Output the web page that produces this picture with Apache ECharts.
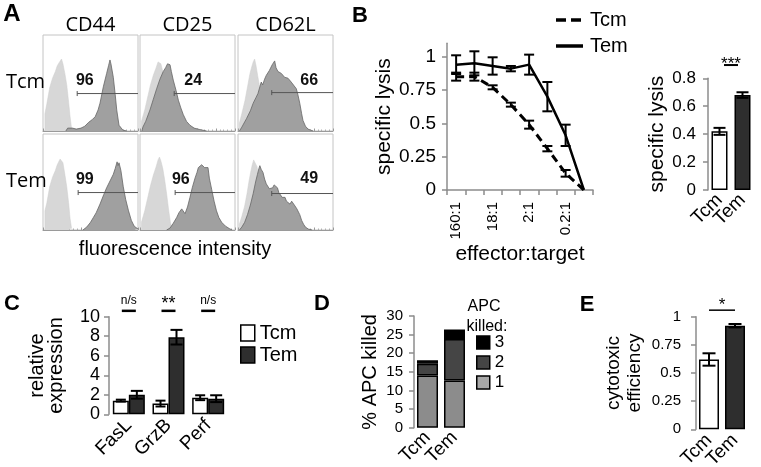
<!DOCTYPE html>
<html><head><meta charset="utf-8">
<script src="https://cdn.jsdelivr.net/npm/echarts@6/dist/echarts.min.js"></script>
<style>html,body{margin:0;padding:0;background:#fff}#c{width:761px;height:467px}</style>
</head><body><div id="c"></div><script>
const FONT = '"Liberation Sans", Arial, sans-serif';
const FONT_A = '"Open Sans", "Noto Sans", sans-serif';
const AX = '#8c8c8c';

// ---------- Panel A : histograms ----------
const histCols = ['CD44', 'CD25', 'CD62L'];
const histRows = ['Tcm', 'Tem'];
// order: Tcm CD44, Tcm CD25, Tcm CD62L, Tem CD44, Tem CD25, Tem CD62L  (x: 0-100, y: % of box height)
const histLight = [
  [[2,0],[2,18],[4,28],[7,45],[10,55],[13,62],[15,68],[16,66],[17.5,72],[18.5,70],[19.5,75],[21,70],[23,60],[25,48],[27,30],[28.5,15],[30,3],[31,0]],
  [[1.5,0],[1.5,10],[5,22],[8,35],[11,48],[14,58],[17,66],[19,72],[20.5,74],[22,70],[25,58],[28,40],[31,20],[34,5],[36,0]],
  [[1.4,0],[1.4,8],[4,18],[7.4,32],[10,46],[12.6,60],[14.5,67],[16,72],[17.5,75],[19,68],[21,56],[23,45],[25,34],[27,22],[29,10],[31,0]],
  [[2,0],[2,20],[4,28],[7,45],[10,55],[13,62],[15,68],[16,66],[18,74],[19.5,76],[21,70],[23,58],[25,45],[27,28],[28.5,12],[30,2],[31,0]],
  [[1.5,0],[1.5,8],[5,20],[8,33],[11,46],[14,57],[17,66],[19,73],[20.5,76],[22,72],[24,64],[26,52],[28,38],[30,22],[32,8],[34,0]],
  [[1.4,0],[1.4,6],[4,14],[7,25],[9.5,38],[11.6,51],[13.5,61],[15,68],[16.5,73],[18.4,75],[20,66],[21.9,54],[24,40],[26,26],[28,12],[30,0]]
];
const histDark = [
  [[24,0],[26,3],[28,4],[31,3],[35,2],[40,3],[44,5],[48,9],[52,12],[55,15],[58,22],[60,29],[63.5,46],[67,60],[69,68],[70.5,74],[71.5,70],[72.5,72],[74,56],[76,38],[77.6,22],[80,6],[84,1],[88,0]],
  [[2,0],[3,4],[6,10],[10.5,22],[14,33],[17.5,44],[21,54],[24.5,62],[27,66],[29,70],[30.5,68],[31.6,69],[33,62],[35,53],[38,42],[40.4,32],[43,24],[45.6,17],[49,10],[52.6,6],[57,3],[63,1.5],[70,0]],
  [[1.5,0],[4,4],[9,13],[13,21],[16,29],[19,35],[21,39],[23,46],[24.5,51],[26,48],[28,54],[29.8,58],[31.5,57],[33,63],[34.5,62],[36,69],[37.5,68],[38.6,73],[40,66],[42,62],[44,63],[45.6,60],[47.5,58],[49,56],[51,57],[52.6,55],[54.5,53],[56,51],[58,49],[61.4,44],[63,38],[65,29],[67,18],[68.4,11],[71,5],[73.7,2],[79,0]],
  [[42,0],[46,3],[50,8],[53,13],[56,18],[60,27],[64,37],[67,44],[70,50],[74,58],[76,64],[78,71],[79,67],[80,70],[82,62],[84.5,45],[87,32],[90,20],[93,10],[96,4],[100,1]],
  [[28,0],[31.6,2],[35,7],[38.6,13],[41,18],[43.9,22],[45.5,20],[47.4,17],[50,24],[52.6,34],[55,44],[57.9,54],[60,60],[61.4,65],[63,64],[64.9,68],[66.5,66],[68,65],[70,67],[71.6,65],[73,54],[75.5,42],[78,30],[80.5,20],[83,13],[86,8],[90,4],[94,1.5],[97,0]],
  [[1.5,0],[4,3],[7,8],[10,16],[13,26],[16,38],[18.5,50],[20.5,58],[22,64],[23,67],[24.5,63],[26.3,60],[28,53],[29.8,48],[31.5,46],[33,43],[35,45],[36.5,44],[38,47],[40,46],[41.5,44],[43,39],[45,37],[46.5,34],[48,35],[49.5,34],[51,30],[53,28],[54.7,27],[56.5,30],[58,30],[60,25],[62,22],[63,20],[65,16],[67,10],[69,6],[71,3],[74,1],[78,0]]
];
const gateStart = [36, 36, 35.5, 37, 37, 35.5];
const gateLevel = [39, 39, 40, 39, 39, 38];
const gateLabel = ['96', '24', '66', '99', '96', '49'];
const gateLabelX = [44, 56, 75, 44, 43, 75];
const gateLabelY = [52, 52, 52, 52, 52, 53.5];

// ---------- Panel B ----------
const ratioCats = ['160:1', '53:1', '18:1', '6:1', '2:1', '0.7:1', '0.2:1', '0.07:1'];
const lysisTcm = [0.85, 0.85, 0.77, 0.64, 0.49, 0.31, 0.125, 0];
const lysisTcmErr = [0.03, 0.03, 0.015, 0.015, 0.03, 0.02, 0.025, 0];
const lysisTem = [0.94, 0.95, 0.93, 0.91, 0.94, 0.70, 0.41, 0];
const lysisTemErr = [0.07, 0.09, 0.065, 0.02, 0.075, 0.11, 0.08, 0];
const groups = ['Tcm', 'Tem'];
const lysisBar = [0.42, 0.68];
const lysisBarErr = [0.025, 0.02];
const lysisSig = ['***'];

// ---------- Panel C ----------
const genes = ['FasL', 'GrzB', 'Perf'];
const exprTcm = [1.4, 1.1, 1.7];
const exprTcmErr = [0.1, 0.3, 0.25];
const exprTem = [2.0, 7.9, 1.6];
const exprTemErr = [0.4, 0.75, 0.35];
const geneSig = ['n/s', '**', 'n/s'];

// ---------- Panel D ----------
const apcKilled1 = [14, 12.7];
const apcKilled2 = [3.2, 11.1];
const apcKilled3 = [0.9, 2.6];

// ---------- Panel E ----------
const cytoEff = [0.62, 0.92];
const cytoErr = [0.055, 0.015];
const cytoSig = ['*'];

// ================= layout & build =================
const grids = [], xAxes = [], yAxes = [], series = [];
function addGrid(box, xa, ya) {
  const gi = grids.length;
  grids.push(Object.assign({outerBoundsMode: 'none'}, box));
  xa.gridIndex = gi; ya.gridIndex = gi;
  xAxes.push(xa); yAxes.push(ya);
  return gi;
}
const colLeft = [43, 140, 238], colW = 95, rowTop = [35, 134], rowH = 96;

for (let i = 0; i < 6; i++) {
  const r = Math.floor(i / 3), c = i % 3;
  const gi = addGrid(
    {left: colLeft[c], top: rowTop[r], width: colW, height: rowH, show: true, borderColor: '#c4c4c4', borderWidth: 1},
    {type: 'value', min: 0, max: 100, interval: 20,
      axisLine: {show: true, lineStyle: {color: '#9a9a9a', width: 1}},
      axisTick: {show: true, inside: true, length: 2.5, lineStyle: {color: '#9a9a9a'}},
      minorTick: {show: true, splitNumber: 5, length: 1.5, lineStyle: {color: '#b0b0b0'}},
      axisLabel: {show: false}, splitLine: {show: false}},
    {type: 'value', min: 0, max: 100, show: false}
  );
  series.push({type: 'line', xAxisIndex: gi, yAxisIndex: gi, data: histLight[i], symbol: 'none',
    lineStyle: {color: '#cfcfcf', width: 0.5}, areaStyle: {color: '#d7d7d7', opacity: 1}, z: 1});
  series.push({type: 'line', xAxisIndex: gi, yAxisIndex: gi, data: histDark[i], symbol: 'none',
    lineStyle: {color: '#666', width: 0.8}, areaStyle: {color: '#a0a0a0', opacity: 1}, z: 2});
  const label = gateLabel[i];
  series.push({type: 'custom', xAxisIndex: gi, yAxisIndex: gi, z: 3,
    data: [[gateStart[i], gateLevel[i], gateLabelX[i], gateLabelY[i]]],
    renderItem: (params, api) => {
      const p0 = api.coord([api.value(0), api.value(1)]);
      const p1 = api.coord([100, api.value(1)]);
      const pl = api.coord([api.value(2), api.value(3)]);
      const st = {stroke: '#555', lineWidth: 1};
      return {type: 'group', children: [
        {type: 'line', shape: {x1: p0[0], y1: p0[1], x2: p1[0], y2: p1[1]}, style: st},
        {type: 'line', shape: {x1: p0[0], y1: p0[1] - 2.5, x2: p0[0], y2: p0[1] + 2.5}, style: st},
        {type: 'text', x: pl[0], y: pl[1], style: {text: label, font: 'bold 16px ' + FONT, fill: '#111', align: 'center', verticalAlign: 'middle'}}
      ]};
    }});
}

function valAxis(o) {
  const ax = {type: 'value', min: o.min, max: o.max,
    axisLine: {show: true, lineStyle: {color: AX, width: 1.5}},
    axisTick: {show: true, length: 5, lineStyle: {color: AX, width: 1.5}},
    axisLabel: {fontSize: o.fs, color: '#000', margin: o.margin, fontFamily: FONT},
    splitLine: {show: false},
    name: o.name, nameLocation: 'middle', nameGap: o.gap,
    nameTextStyle: {fontSize: o.nfs, color: '#000', fontFamily: FONT, lineHeight: o.lh || o.nfs}};
  if (o.interval) ax.interval = o.interval;
  if (o.custom) { ax.axisLabel.customValues = o.custom; ax.axisTick.customValues = o.custom; }
  return ax;
}
function catAxis(data, fs, margin) {
  return {type: 'category', data, axisLine: {show: false}, axisTick: {show: false},
    axisLabel: {fontSize: fs, color: '#000', rotate: 45, margin, interval: 0, fontFamily: FONT}};
}
function errSeries(gi, data, offset, cap, lw) {
  return {type: 'custom', xAxisIndex: gi, yAxisIndex: gi, data, z: 6, encode: {x: 0, y: 1},
    renderItem: (params, api) => {
      const e = api.value(2);
      if (!e) return;
      const t = api.coord([api.value(0), api.value(1) + e]);
      const b = api.coord([api.value(0), api.value(1) - e]);
      const x = t[0] + offset;
      const st = {stroke: '#000', lineWidth: lw};
      return {type: 'group', children: [
        {type: 'line', shape: {x1: x, y1: t[1], x2: x, y2: b[1]}, style: st},
        {type: 'line', shape: {x1: x - cap, y1: t[1], x2: x + cap, y2: t[1]}, style: st},
        {type: 'line', shape: {x1: x - cap, y1: b[1], x2: x + cap, y2: b[1]}, style: st}
      ]};
    }};
}
function sigSeries(gi, data, texts, fonts, dys, hw, lw) {
  return {type: 'custom', xAxisIndex: gi, yAxisIndex: gi, data, z: 6, encode: {x: 0, y: 2},
    renderItem: (params, api) => {
      const a = api.coord([api.value(0), api.value(2)]);
      const b = api.coord([api.value(1), api.value(2)]);
      const i = params.dataIndex;
      return {type: 'group', children: [
        {type: 'line', shape: {x1: a[0] - hw, y1: a[1], x2: b[0] + hw, y2: b[1]}, style: {stroke: '#000', lineWidth: lw}},
        {type: 'text', x: (a[0] + b[0]) / 2, y: a[1] + dys[i], style: {text: texts[i], font: fonts[i], fill: '#000', align: 'center', verticalAlign: 'middle'}}
      ]};
    }};
}

// Panel B line chart
const gB = addGrid({left: 447, top: 43.3, width: 146, height: 146.7},
  {type: 'category', data: ratioCats, boundaryGap: true,
    axisLine: {show: true, lineStyle: {color: AX, width: 1.5}},
    axisTick: {show: true, length: 5, interval: 0, lineStyle: {color: AX, width: 1.5}},
    axisLabel: {interval: 1, rotate: 90, fontSize: 15, margin: 12, color: '#000', fontFamily: FONT},
    name: 'effector:target', nameLocation: 'middle', nameGap: 49,
    nameTextStyle: {fontSize: 21, color: '#000', fontFamily: FONT}},
  valAxis({min: 0, max: 1.1, custom: [0, 0.25, 0.5, 0.75, 1], fs: 19, margin: 11, name: 'specific lysis', gap: 50, nfs: 21}));
series.push({type: 'line', name: 'Tcm', xAxisIndex: gB, yAxisIndex: gB, data: lysisTcm, symbol: 'none',
  lineStyle: {color: '#000', width: 3, type: [8, 5]}, itemStyle: {color: '#000'}, z: 3});
series.push({type: 'line', name: 'Tem', xAxisIndex: gB, yAxisIndex: gB, data: lysisTem, symbol: 'none',
  lineStyle: {color: '#000', width: 2.5}, itemStyle: {color: '#000'}, z: 3});
series.push(errSeries(gB, lysisTcm.map((v, i) => [i, v, lysisTcmErr[i]]), 0, 5, 2));
series.push(errSeries(gB, lysisTem.map((v, i) => [i, v, lysisTemErr[i]]), 0, 5, 2));

// Panel B inset bars
const gBi = addGrid({left: 708, top: 78.3, width: 46, height: 111.7},
  catAxis(groups, 19, 7),
  valAxis({min: 0, max: 0.8, interval: 0.2, fs: 17, margin: 12, name: 'specific lysis', gap: 40, nfs: 21}));
series.push({type: 'bar', xAxisIndex: gBi, yAxisIndex: gBi, barWidth: 16,
  data: lysisBar.map((v, i) => ({value: v, itemStyle: {color: i ? '#2e2e2e' : '#fff', borderColor: '#000', borderWidth: 1.5}}))});
series.push(errSeries(gBi, lysisBar.map((v, i) => [i, v, lysisBarErr[i]]), 0, 6, 2));
series.push(sigSeries(gBi, [[0, 1, 0.895]], lysisSig, ['17px ' + FONT], [-1], -4.5, 2));

// Panel C
const gC = addGrid({left: 109, top: 316.7, width: 119, height: 97.6},
  catAxis(genes, 19, 8),
  valAxis({min: 0, max: 10, interval: 2, fs: 18, margin: 9, name: 'relative\nexpression', gap: 43, nfs: 20, lh: 19}));
series.push({type: 'bar', name: 'Tcm ', xAxisIndex: gC, yAxisIndex: gC, data: exprTcm, barWidth: 16, barGap: '0%',
  itemStyle: {color: '#fff', borderColor: '#000', borderWidth: 1.5}});
series.push({type: 'bar', name: 'Tem ', xAxisIndex: gC, yAxisIndex: gC, data: exprTem, barWidth: 16, barGap: '0%',
  itemStyle: {color: '#2e2e2e', borderColor: '#000', borderWidth: 1.5}});
series.push(errSeries(gC, exprTcm.map((v, i) => [i, v, exprTcmErr[i]]), -8, 5, 2));
series.push(errSeries(gC, exprTem.map((v, i) => [i, v, exprTemErr[i]]), 8, 6, 2));
series.push(sigSeries(gC, genes.map((g, i) => [i, i, 10.6]), geneSig,
  geneSig.map(s => s === '**' ? '18px ' + FONT : '12px ' + FONT),
  geneSig.map(s => s === '**' ? -6.5 : -10.5), 7, 2.5));

// Panel D
const gD = addGrid({left: 414, top: 316, width: 54, height: 111.7},
  catAxis(groups, 19, 7),
  valAxis({min: 0, max: 30, interval: 5, fs: 15, margin: 11, name: '% APC killed', gap: 34, nfs: 20}));
[[apcKilled1, '1', '#8c8c8c'], [apcKilled2, '2', '#454545'], [apcKilled3, '3', '#000']].forEach(([d, n, col]) => {
  series.push({type: 'bar', name: n, stack: 'apc', xAxisIndex: gD, yAxisIndex: gD, data: d, barWidth: 21,
    itemStyle: {color: col, borderColor: '#000', borderWidth: 1.5}});
});

// Panel E
const gE = addGrid({left: 696, top: 316.7, width: 52, height: 112.6},
  catAxis(groups, 19, 8),
  valAxis({min: 0, max: 1, interval: 0.25, fs: 15, margin: 15, name: 'cytotoxic\nefficiency', gap: 51, nfs: 19, lh: 21}));
series.push({type: 'bar', xAxisIndex: gE, yAxisIndex: gE, barWidth: 20,
  data: cytoEff.map((v, i) => ({value: v, itemStyle: {color: i ? '#2e2e2e' : '#fff', borderColor: '#000', borderWidth: 1.5}}))});
series.push(errSeries(gE, cytoEff.map((v, i) => [i, v, cytoErr[i]]), 0, 6.5, 2));
series.push(sigSeries(gE, [[0, 1, 1.058]], cytoSig, ['17px ' + FONT], [-4.5], 0, 1.5));

// ---------- text graphics & B legend ----------
const graphics = [];
function txt(text, x, y, font, align) {
  graphics.push({type: 'text', x, y, silent: true,
    style: {text, font, fill: '#000', align: align || 'center', verticalAlign: 'middle'}});
}
txt('A', 12, 14, 'bold 24px ' + FONT);
txt('B', 360, 16, 'bold 22px ' + FONT);
txt('C', 12, 304, 'bold 22px ' + FONT);
txt('D', 322, 304, 'bold 22px ' + FONT);
txt('E', 587, 305, 'bold 22px ' + FONT);
histCols.forEach((c, i) => txt(c, colLeft[i] + colW / 2, 25, '20px ' + FONT_A));
histRows.forEach((r, i) => txt(r, 6, rowTop[i] + 47, '20px ' + FONT_A, 'left'));
txt('fluorescence intensity', 175, 249, '20px ' + FONT);
txt('APC', 484, 307, '16px ' + FONT);
txt('killed:', 487, 327, '16px ' + FONT);
// B legend
['Tcm', 'Tem'].forEach((n, i) => {
  const y = 20 + i * 26;
  graphics.push({type: 'line', silent: true, shape: {x1: 556, y1: y, x2: 583, y2: y},
    style: {stroke: '#000', lineWidth: 3.5, lineDash: i === 0 ? [10, 5] : null}});
  txt(n, 590, y, '20px ' + FONT, 'left');
});

const legendBox = {borderColor: '#000', borderWidth: 1.5};
const chart = echarts.init(document.getElementById('c'), null, {renderer: 'canvas'});
chart.setOption({
  animation: false,
  backgroundColor: '#fff',
  textStyle: {fontFamily: FONT},
  grid: grids, xAxis: xAxes, yAxis: yAxes, series,
  legend: [
    {data: ['Tcm ', 'Tem '], formatter: n => n.trim(), orient: 'vertical', left: 240, top: 323, itemWidth: 14, itemHeight: 16,
      icon: 'rect', itemGap: 2, padding: 0, selectedMode: false, itemStyle: legendBox,
      textStyle: {fontSize: 20, color: '#000', fontFamily: FONT, lineHeight: 16}},
    {data: [{name: '3', itemStyle: {color: '#000'}}, {name: '2', itemStyle: {color: '#454545'}}, {name: '1', itemStyle: {color: '#a8a8a8'}}],
      orient: 'vertical', left: 476, top: 334, itemWidth: 13, itemHeight: 13,
      icon: 'rect', itemGap: 3, padding: 0, selectedMode: false, itemStyle: legendBox,
      textStyle: {fontSize: 17, color: '#000', fontFamily: FONT, lineHeight: 15}}
  ],
  graphic: graphics
});
</script></body></html>
